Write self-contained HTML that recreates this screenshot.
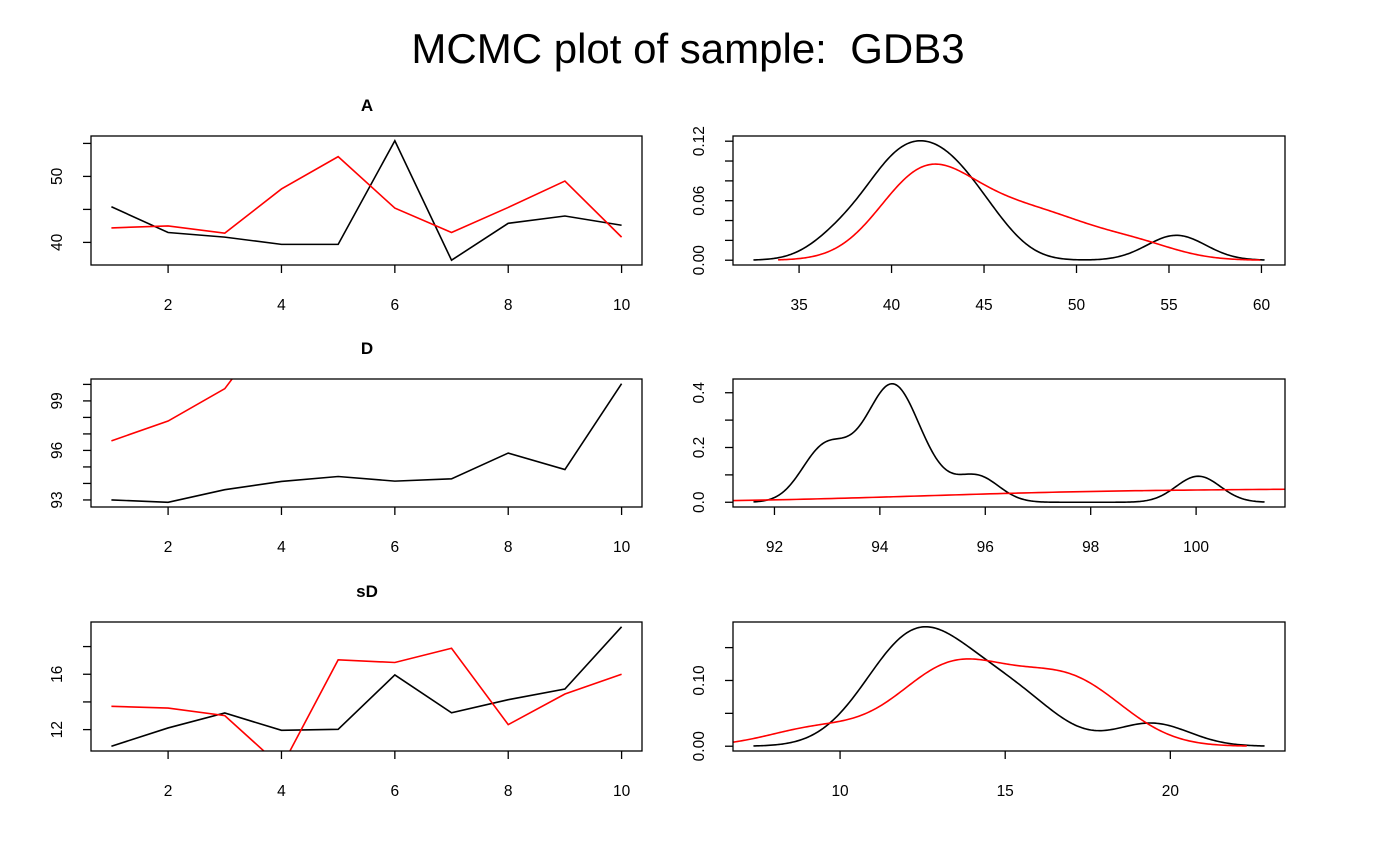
<!DOCTYPE html>
<html><head><meta charset="utf-8"><style>
html,body{margin:0;padding:0;background:#fff;}
svg{display:block;font-family:"Liberation Sans",Arial,sans-serif;}
</style></head><body>
<svg id="chart" width="1400" height="865" viewBox="0 0 1400 865" xmlns="http://www.w3.org/2000/svg">
<rect width="1400" height="865" fill="#fff"/>
<text x="688" y="63" font-size="42" text-anchor="middle">MCMC plot of sample:&#160; GDB3</text>
</svg>
<script>
// ---- data ----
const iterations = [1,2,3,4,5,6,7,8,9,10];
const paramNames = ["A","D","sD"];
const chainA1 = [45.4,41.5,40.8,39.7,39.7,55.4,37.3,42.9,44.0,42.6];
const chainA2 = [42.2,42.5,41.4,48.1,53.0,45.2,41.5,45.3,49.3,40.8];
const chainD1 = [93.0,92.86,93.62,94.12,94.42,94.14,94.28,95.84,94.84,100.04];
const chainD2 = [96.58,97.78,99.74,104.3,108,103,112,106,115,110];
const chainS1 = [10.80,12.12,13.20,11.95,12.02,15.95,13.22,14.16,14.93,19.43];
const chainS2 = [13.68,13.56,13.01,9.3,17.04,16.85,17.88,12.36,14.57,16.0];
const traceXTicks = [2,4,6,8,10];
const traceYTicksA = [40,45,50,55];
const traceYLabelsA = [40,50];
const traceYTicksD = [93,94,95,96,97,98,99,100];
const traceYLabelsD = [93,96,99];
const traceYTicksS = [12,14,16,18];
const traceYLabelsS = [12,16];
const densXTicksA = [35,40,45,50,55,60];
const densXTicksD = [92,94,96,98,100];
const densXTicksS = [10,15,20];
const densYTicksA = [0,0.02,0.04,0.06,0.08,0.10,0.12];
const densYLabelsA = ["0.00","0.06","0.12"];
const densYTicksD = [0,0.1,0.2,0.3,0.4];
const densYLabelsD = ["0.0","0.2","0.4"];
const densYTicksS = [0,0.05,0.10,0.15];
const densYLabelsS = ["0.00","0.10"];

const NS="http://www.w3.org/2000/svg";
const svg=document.getElementById('chart');
function el(tag,attrs,parent){const e=document.createElementNS(NS,tag);for(const k in attrs)e.setAttribute(k,attrs[k]);(parent||svg).appendChild(e);return e;}
function ext(lo,hi){const d=(hi-lo)*0.04;return [lo-d,hi+d];}
function quant(s,p){const h=(s.length-1)*p,l=Math.floor(h);return s[l]+(h-l)*((s[l+1]??s[l])-s[l]);}
function bwNrd0(v){const n=v.length,m=v.reduce((a,b)=>a+b,0)/n;const sd=Math.sqrt(v.reduce((a,b)=>a+(b-m)*(b-m),0)/(n-1));const s=[...v].sort((a,b)=>a-b);const iqr=(quant(s,0.75)-quant(s,0.25))/1.34;return 0.9*Math.min(sd,iqr)*Math.pow(n,-0.2);}
function kde(v){const bw=bwNrd0(v);const lo=Math.min(...v)-3*bw,hi=Math.max(...v)+3*bw;const pts=[];const N=300;for(let i=0;i<=N;i++){const x=lo+(hi-lo)*i/N;let s=0;for(const xi of v){const z=(x-xi)/bw;s+=Math.exp(-0.5*z*z);}pts.push([x,s/(v.length*bw*Math.sqrt(2*Math.PI))]);}return pts;}

const rows=[{top:136,bot:265},{top:379,bot:507},{top:622,bot:751}];
const L={x0:91,x1:642}, R={x0:733,x1:1285};
let clipId=0;
function panel(name,box,xlim,ylim,xt,xl,yt,yl,series){
  const g=el('g',{});
  
  
  const sx=v=>box.x0+(v-xlim[0])/(xlim[1]-xlim[0])*(box.x1-box.x0);
  const sy=v=>box.bot-(v-ylim[0])/(ylim[1]-ylim[0])*(box.bot-box.top);
  const cid='c'+(clipId++);
  const cp=el('clipPath',{id:cid},g);el('rect',{x:box.x0,y:box.top,width:box.x1-box.x0,height:box.bot-box.top},cp);
  series.forEach(s=>{
    const p=el('polyline',{points:s.pts.map(q=>sx(q[0]).toFixed(2)+','+sy(q[1]).toFixed(2)).join(' '),fill:'none',stroke:s.color,'stroke-width':1.6,'clip-path':'url(#'+cid+')'},g);
    
    
  });
  const frame=el('rect',{x:box.x0,y:box.top,width:box.x1-box.x0,height:box.bot-box.top,fill:'none',stroke:'#000','stroke-width':1.3},g);
  
  
  xt.forEach(v=>{const x=sx(v);el('line',{x1:x,x2:x,y1:box.bot,y2:box.bot+8,stroke:'#000','stroke-width':1.3},g);
    const t=el('text',{x:x,y:box.bot+45,'font-size':15.5,'text-anchor':'middle'},g);t.textContent=xl?xl(v):v;
    
    });
  yt.forEach(v=>{const y=sy(v);el('line',{x1:box.x0,x2:box.x0-8,y1:y,y2:y,stroke:'#000','stroke-width':1.3},g);});
  yl.forEach(lab=>{const y=sy(parseFloat(lab));const x=box.x0-29;
    const t=el('text',{x:x,y:y,'font-size':15.5,'text-anchor':'middle',transform:'rotate(-90 '+x+' '+y+')'},g);t.textContent=lab;
    
    });
}
const chains=[[chainA1,chainA2],[chainD1,chainD2],[chainS1,chainS2]];
const tY=[[traceYTicksA,traceYLabelsA],[traceYTicksD,traceYLabelsD],[traceYTicksS,traceYLabelsS]];
const dX=[densXTicksA,densXTicksD,densXTicksS];
const dY=[[densYTicksA,densYLabelsA],[densYTicksD,densYLabelsD],[densYTicksS,densYLabelsS]];
chains.forEach((ch,i)=>{
  const r=rows[i];
  const t=el('text',{x:367,y:r.top-25,'font-size':17,'font-weight':'bold','text-anchor':'middle'});
  t.textContent=paramNames[i];
  
  
  const xl=ext(Math.min(...iterations),Math.max(...iterations));
  const yl=ext(Math.min(...ch[0]),Math.max(...ch[0]));
  panel('trace-'+paramNames[i],{x0:L.x0,x1:L.x1,top:r.top,bot:r.bot},xl,yl,traceXTicks,null,tY[i][0],tY[i][1].map(String),
    [{name:'trace-chain1',color:'#000',pts:iterations.map((it,k)=>[it,ch[0][k]])},
     {name:'trace-chain2',color:'#ff0000',pts:iterations.map((it,k)=>[it,ch[1][k]])}]);
  const d1=kde(ch[0]),d2=kde(ch[1]);
  const dx=ext(d1[0][0],d1[d1.length-1][0]);
  const ymax=Math.max(...d1.map(p=>p[1]),...d2.map(p=>p[1]));
  const dy=ext(0,ymax);
  panel('density-'+paramNames[i],{x0:R.x0,x1:R.x1,top:r.top,bot:r.bot},dx,dy,dX[i],null,dY[i][0],dY[i][1],
    [{name:'density-chain1',color:'#000',pts:d1},{name:'density-chain2',color:'#ff0000',pts:d2}]);
});
</script>
</body></html>
